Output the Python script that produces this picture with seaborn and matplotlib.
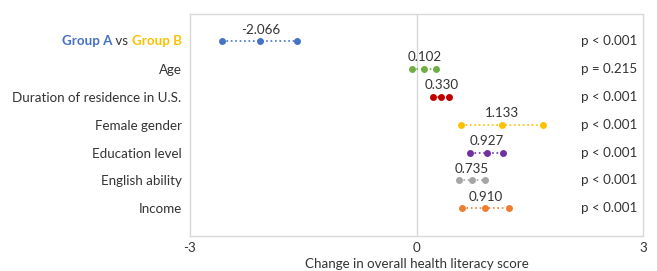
import pandas as pd
import numpy as np
import seaborn as sns
import matplotlib.pyplot as plt
from matplotlib.offsetbox import TextArea, HPacker, AnnotationBbox

factors = ["Group A vs Group B", "Age", "Duration of residence in U.S.", "Female gender",
           "Education level", "English ability", "Income"]
estimates = [-2.066, 0.102, 0.330, 1.133, 0.927, 0.735, 0.910]
ci_low = [-2.58, -0.06, 0.22, 0.59, 0.71, 0.56, 0.60]
ci_high = [-1.58, 0.26, 0.43, 1.68, 1.14, 0.90, 1.23]
p_labels = ["p < 0.001", "p = 0.215", "p < 0.001", "p < 0.001", "p < 0.001", "p < 0.001", "p < 0.001"]
colors = ["#4472C4", "#70AD47", "#C00000", "#FFC000", "#7030A0", "#A5A5A5", "#ED7D31"]
x_ticks = [-3, 0, 3]

sns.set_theme(style="white")
plt.rcParams['font.family'] = ['Lato', 'DejaVu Sans']
text_col = "#333333"
fs = 9.6

rows = []
for i, f in enumerate(factors):
    for v in (ci_low[i], estimates[i], ci_high[i]):
        rows.append({"factor": f, "row": i, "value": v})
df = pd.DataFrame(rows)

fig = plt.figure(figsize=(6.57, 2.71), dpi=100)
ax = fig.add_axes([0.289, 0.129, 0.69, 0.821])

ax.axvline(0, color="#D9D9D9", lw=1, zorder=0)
sns.lineplot(data=df, x="value", y="row", hue="factor", palette=colors, estimator=None,
             sort=False, linestyle=":", lw=1.2, marker="o", markersize=5,
             markeredgewidth=0, legend=False, ax=ax)

ax.set_xlim(-3, 3)
ax.set_ylim(7, -1)
ax.set_xticks(x_ticks)
ax.set_xticklabels([str(t) for t in x_ticks])
ax.set_yticks(range(len(factors)))
ax.set_yticklabels([""] + factors[1:])
ax.tick_params(axis="both", length=0, labelsize=fs, labelcolor=text_col)
ax.tick_params(axis="x", pad=4)
ax.tick_params(axis="y", pad=6)
ax.set_xlabel("Change in overall health literacy score", fontsize=fs, color=text_col, labelpad=3)
ax.set_ylabel("")
for s in ax.spines.values():
    s.set_color("#D9D9D9")
    s.set_linewidth(1)

for i in range(len(factors)):
    ax.text(estimates[i], i - 0.42, f"{estimates[i]:.3f}", ha="center", va="center",
            fontsize=fs, color=text_col)
    ax.text(2.92, i, p_labels[i], ha="right", va="center", fontsize=fs, color=text_col)

# coloured first row label
parts = [TextArea("Group A", textprops=dict(color="#4472C4", fontweight="bold", fontsize=fs)),
         TextArea(" vs ", textprops=dict(color=text_col, fontsize=fs)),
         TextArea("Group B", textprops=dict(color="#FFC000", fontweight="bold", fontsize=fs))]
box = HPacker(children=parts, align="baseline", pad=0, sep=0)
ab = AnnotationBbox(box, (-3, 0), xybox=(-6, 0), xycoords="data", boxcoords="offset points",
                    box_alignment=(1, 0.5), frameon=False)
ax.add_artist(ab)

fig.savefig("out.png", dpi=100)
